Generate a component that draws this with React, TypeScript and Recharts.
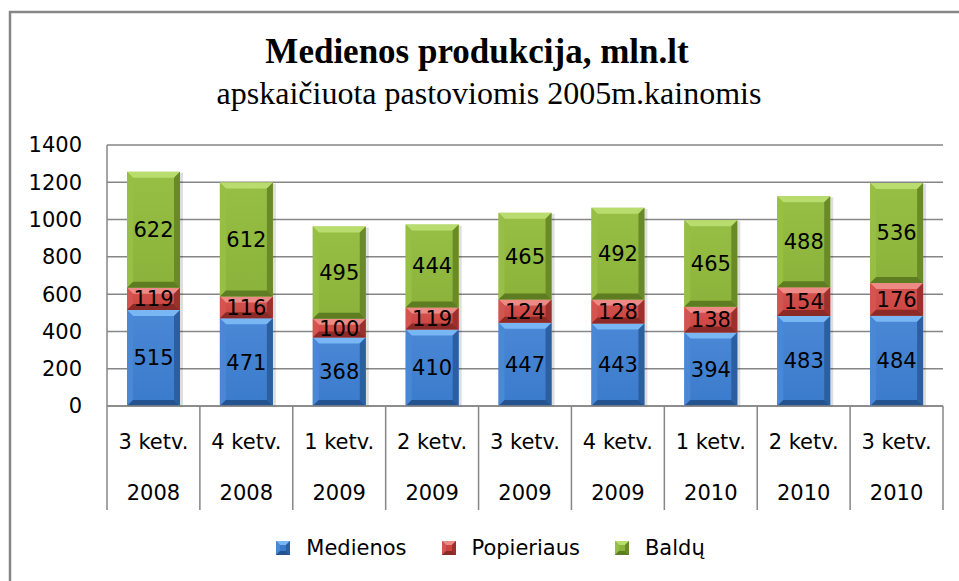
import React from 'react';
import { BarChart, Bar, XAxis, YAxis, CartesianGrid, Legend, LabelList, Customized } from 'recharts';

const quarters = ['3 ketv.', '4 ketv.', '1 ketv.', '2 ketv.', '3 ketv.', '4 ketv.', '1 ketv.', '2 ketv.', '3 ketv.'];
const years = ['2008', '2008', '2009', '2009', '2009', '2009', '2010', '2010', '2010'];
const medienos = [515, 471, 368, 410, 447, 443, 394, 483, 484];
const popieriaus = [119, 116, 100, 119, 124, 128, 138, 154, 176];
const baldu = [622, 612, 495, 444, 465, 492, 465, 488, 536];
const yTicks = [0, 200, 400, 600, 800, 1000, 1200, 1400];
const seriesKeys = ['medienos', 'popieriaus', 'baldu'];
const seriesNames = ['Medienos', 'Popieriaus', 'Baldų'];
const titleText = 'Medienos produkcija, mln.lt';
const subtitleText = 'apskaičiuota pastoviomis 2005m.kainomis';

const data = quarters.map((q, i) => ({
  cat: `${q} ${years[i]}`,
  medienos: medienos[i],
  popieriaus: popieriaus[i],
  baldu: baldu[i],
}));

const palettes = [
  { mid: '#3b7bcb', top: '#79b6f4', left: '#4a88d6', right: '#2c5f9f', bottom: '#24548f' },
  { mid: '#cc4440', top: '#ee8a86', left: '#d45450', right: '#9c302d', bottom: '#8c2a27' },
  { mid: '#8bb23a', top: '#b9dc6e', left: '#97bf45', right: '#6a8a28', bottom: '#5e7c22' },
];

const AXIS_FONT = 'DejaVu Sans';
const GRID = '#868686';

const makeShape = (idx: number) => (props: any) => {
  const { x, y, width, height } = props;
  if (!height || height <= 0) return null;
  const c = palettes[idx];
  const b = Math.min(6, height / 3, width / 4);
  const gid = `face${idx}`;
  return (
    <g>
      <rect x={x + width} y={y + 1} width={3} height={height} fill="rgba(0,0,0,0.13)" />
      <defs>
        <linearGradient id={gid} x1="0" y1="0" x2="0" y2="1">
          <stop offset="0" stopColor={c.left} />
          <stop offset="1" stopColor={c.mid} />
        </linearGradient>
      </defs>
      <rect x={x} y={y} width={width} height={height} fill={`url(#${gid})`} />
      <polygon points={`${x},${y} ${x + width},${y} ${x + width - b},${y + b} ${x + b},${y + b}`} fill={c.top} />
      <polygon points={`${x},${y} ${x + b},${y + b} ${x + b},${y + height - b} ${x},${y + height}`} fill={c.left} />
      <polygon points={`${x + width},${y} ${x + width},${y + height} ${x + width - b},${y + height - b} ${x + width - b},${y + b}`} fill={c.right} />
      <polygon points={`${x},${y + height} ${x + width},${y + height} ${x + width - b},${y + height - b} ${x + b},${y + height - b}`} fill={c.bottom} />
    </g>
  );
};

const XTick = (props: any) => {
  const { x, y, payload, index, visibleTicksCount, width } = props;
  const half = payload && payload.offset ? payload.offset : width / (visibleTicksCount || 9) / 2;
  const i = index ?? 0;
  const last = i === (visibleTicksCount || quarters.length) - 1;
  return (
    <g>
      <line x1={x - half} x2={x - half} y1={y} y2={y + 104} stroke={GRID} strokeWidth={1.5} />
      {last && <line x1={x + half} x2={x + half} y1={y} y2={y + 104} stroke={GRID} strokeWidth={1.5} />}
      <text x={x} y={y + 43} textAnchor="middle" fontFamily={AXIS_FONT} fontSize={21} fill="#000">
        {quarters[i]}
      </text>
      <text x={x} y={y + 94} textAnchor="middle" fontFamily={AXIS_FONT} fontSize={21} fill="#000">
        {years[i]}
      </text>
    </g>
  );
};

const LegendContent = () => (
  <div
    style={{
      display: 'flex',
      justifyContent: 'center',
      alignItems: 'center',
      paddingLeft: 22,
      fontFamily: AXIS_FONT,
      fontSize: 21,
      color: '#000',
      lineHeight: '28px',
    }}
  >
    {seriesNames.map((n, i) => {
      const c = palettes[i];
      return (
        <div key={n} style={{ display: 'flex', alignItems: 'center', marginRight: i < 2 ? 35 : 0 }}>
          <svg width={14} height={14} style={{ marginRight: 16 }}>
            <rect x={0} y={0} width={14} height={14} fill={c.mid} />
            <polygon points="0,0 14,0 10,4 4,4" fill={c.top} />
            <polygon points="0,0 4,4 4,10 0,14" fill={c.left} />
            <polygon points="14,0 14,14 10,10 10,4" fill={c.right} />
            <polygon points="0,14 14,14 10,10 4,10" fill={c.bottom} />
          </svg>
          <span>{n}</span>
        </div>
      );
    })}
  </div>
);

const Decor = () => (
  <g>
    <rect x={10} y={12} width={1000} height={700} fill="none" stroke={GRID} strokeWidth={2.5} />
    <text x={477} y={63} textAnchor="middle" fontFamily="Liberation Serif" fontWeight="bold" fontSize={35} fill="#000">
      {titleText}
    </text>
    <text x={489} y={104} textAnchor="middle" fontFamily="Liberation Serif" fontSize={32} fill="#000">
      {subtitleText}
    </text>
  </g>
);

export default function App() {
  return (
    <div style={{ position: 'absolute', left: 0, top: 0, width: 959, height: 581, background: '#fff' }}>
      <BarChart
        width={959}
        height={581}
        data={data}
        margin={{ top: 145, right: 16, left: 10, bottom: 71 }}
        barSize={53}
      >
        <Customized component={Decor} />
        <CartesianGrid vertical={false} stroke={GRID} strokeWidth={1.5} />
        <XAxis
          dataKey="cat"
          height={104}
          tickLine={false}
          tickSize={0}
          tickMargin={0}
          interval={0}
          axisLine={{ stroke: GRID, strokeWidth: 1.5 }}
          tick={<XTick />}
        />
        <YAxis
          domain={[0, 1400]}
          ticks={yTicks}
          interval={0}
          width={97}
          tickLine={false}
          tickSize={0}
          tickMargin={25}
          axisLine={{ stroke: GRID, strokeWidth: 1.5 }}
          tick={{ fill: '#000', fontSize: 21, fontFamily: AXIS_FONT }}
        />
        <Legend
          layout="horizontal"
          verticalAlign="middle"
          align="center"
          wrapperStyle={{ top: 534, left: 0, width: 959, height: 28 }}
          content={<LegendContent />}
        />
        {seriesKeys.map((k, i) => (
          <Bar
            key={k}
            dataKey={k}
            name={seriesNames[i]}
            stackId="a"
            isAnimationActive={false}
            fill={palettes[i].mid}
            shape={makeShape(i)}
          >
            <LabelList dataKey={k} position="center" fill="#000" fontSize={21} fontFamily={AXIS_FONT} />
          </Bar>
        ))}
      </BarChart>
    </div>
  );
}
